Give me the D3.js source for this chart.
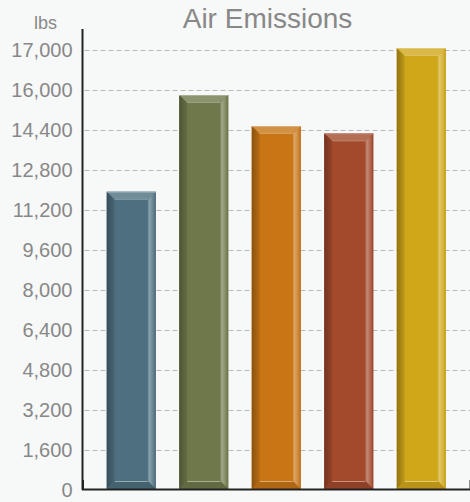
<!DOCTYPE html>
<html>
<head>
<meta charset="utf-8">
<script src="https://cdn.jsdelivr.net/npm/d3@7"></script>
<style>
  html, body { margin: 0; padding: 0; background: #f7f8f8; }
  svg { display: block; font-family: "Liberation Sans", Arial, Helvetica, sans-serif; }
</style>
</head>
<body>
<div id="chart"></div>
<script>
(function(){

  var categories = ["Source 1", "Source 2", "Source 3", "Source 4", "Source 5"];
  var values = [11930, 15800, 14560, 14270, 17680];
  var colors = ["#4e6f7f", "#6f784b", "#c87516", "#a34a2c", "#d1a71a"];
  var tickValues = [0, 1600, 3200, 4800, 6400, 8000, 9600, 11200, 12800, 14400, 16000, 17600];
  var tickLabels = ["0", "1,600", "3,200", "4,800", "6,400", "8,000", "9,600", "11,200", "12,800", "14,400", "16,000", "17,000"];

  var width = 470;
  var height = 502;
  var left = 82.5, right = 470, top = 50, bottom = 490;

  var svg = d3.select("#chart")
    .append("svg")
    .attr("width", width)
    .attr("height", height);

  svg.append("rect")
    .attr("width", width)
    .attr("height", height)
    .attr("fill", "#f7f8f8");

  var x = d3.scaleBand()
    .domain(categories)
    .range([left, right])
    .paddingInner(0.324)
    .paddingOuter(0.334);

  var y = d3.scaleLinear()
    .domain([0, 17600])
    .range([bottom, top]);

  function mix(c, other, t){ return d3.color(d3.interpolateRgb(c, other)(t)).formatHex(); }

  // dashed grid lines
  svg.append("g")
    .selectAll("line")
    .data(tickValues.filter(function(d){ return d > 0; }))
    .enter()
    .append("line")
    .attr("x1", left + 2)
    .attr("x2", right)
    .attr("y1", function(d){ return Math.round(y(d)) + 0.5; })
    .attr("y2", function(d){ return Math.round(y(d)) + 0.5; })
    .attr("stroke", "#b8b8b8")
    .attr("stroke-width", 1)
    .attr("stroke-dasharray", "5,3");

  var defs = svg.append("defs");

  // bevelled bars
  var b = 8;
  var bars = svg.append("g")
    .selectAll("g")
    .data(values)
    .enter()
    .append("g");

  function poly(pts){ return "M" + pts.map(function(p){ return p.join(","); }).join("L") + "Z"; }

  bars.each(function(d, i){
    var g = d3.select(this);
    var x0 = x(categories[i]), x1 = x0 + x.bandwidth();
    var y0 = y(d), y1 = bottom - 1;
    var c = colors[i];

    var lg = defs.append("linearGradient")
      .attr("id", "lg" + i)
      .attr("x1", 0).attr("x2", 1).attr("y1", 0).attr("y2", 0);
    lg.append("stop").attr("offset", 0).attr("stop-color", mix(c, "#000", 0.3));
    lg.append("stop").attr("offset", 1).attr("stop-color", mix(c, "#000", 0.08));

    var rg = defs.append("linearGradient")
      .attr("id", "rg" + i)
      .attr("x1", 0).attr("x2", 1).attr("y1", 0).attr("y2", 0);
    rg.append("stop").attr("offset", 0).attr("stop-color", mix(c, "#fff", 0.12));
    rg.append("stop").attr("offset", 0.2).attr("stop-color", mix(c, "#fff", 0.35));
    rg.append("stop").attr("offset", 0.55).attr("stop-color", mix(c, "#fff", 0.2));
    rg.append("stop").attr("offset", 1).attr("stop-color", mix(c, "#000", 0.05));

    g.append("rect")
      .attr("x", x0).attr("y", y0)
      .attr("width", x1 - x0).attr("height", y1 - y0)
      .attr("fill", c);

    // top bevel
    g.append("path")
      .attr("d", poly([[x0, y0], [x1, y0], [x1 - b, y0 + b], [x0 + b, y0 + b]]))
      .attr("fill", mix(c, "#fff", 0.2));
    // left bevel
    g.append("path")
      .attr("d", poly([[x0, y0], [x0 + b, y0 + b], [x0 + b, y1 - b], [x0, y1]]))
      .attr("fill", "url(#lg" + i + ")");
    // right bevel
    g.append("path")
      .attr("d", poly([[x1, y0], [x1, y1], [x1 - b, y1 - b], [x1 - b, y0 + b]]))
      .attr("fill", "url(#rg" + i + ")");
    // bottom bevel
    g.append("path")
      .attr("d", poly([[x0, y1], [x0 + b, y1 - b], [x1 - b, y1 - b], [x1, y1]]))
      .attr("fill", mix(c, "#000", 0.12));
    // inner top edge highlight
    g.append("line")
      .attr("x1", x0 + b).attr("x2", x1 - b)
      .attr("y1", y0 + b - 0.5).attr("y2", y0 + b - 0.5)
      .attr("stroke", mix(c, "#fff", 0.3))
      .attr("stroke-width", 1);
    // inner bottom highlight
    g.append("line")
      .attr("x1", x0 + b).attr("x2", x1 - b)
      .attr("y1", y1 - b + 0.5).attr("y2", y1 - b + 0.5)
      .attr("stroke", mix(c, "#fff", 0.4))
      .attr("stroke-width", 1);
    // outer top edge line
    g.append("line")
      .attr("x1", x0).attr("x2", x1)
      .attr("y1", y0 + 0.5).attr("y2", y0 + 0.5)
      .attr("stroke", mix(c, "#fff", 0.4))
      .attr("stroke-width", 1);
  });

  // y axis labels
  var yAxis = d3.axisLeft(y)
    .tickValues(tickValues)
    .tickFormat(function(d, i){ return tickLabels[i]; })
    .tickSize(0)
    .tickPadding(10);

  var ya = svg.append("g")
    .attr("transform", "translate(" + left + ",0)")
    .call(yAxis);
  ya.select(".domain").remove();
  ya.selectAll("text")
    .attr("fill", "#888888")
    .style("font-size", "20px")
    .style("font-family", "Liberation Sans, Arial, sans-serif");

  svg.append("line")
    .attr("x1", left).attr("x2", left)
    .attr("y1", 29).attr("y2", bottom)
    .attr("stroke", "#222")
    .attr("stroke-width", 2);

  // x axis line with small end tick
  var xAxis = d3.axisBottom(x)
    .tickSize(0)
    .tickSizeOuter(-9)
    .tickFormat("");

  var xa = svg.append("g")
    .attr("transform", "translate(0," + (bottom - 1) + ")")
    .call(xAxis);
  xa.select(".domain")
    .attr("stroke", "#222")
    .attr("stroke-width", 2);

  // title and unit
  svg.append("text")
    .attr("x", 267.5)
    .attr("y", 28)
    .attr("text-anchor", "middle")
    .attr("fill", "#888888")
    .style("font-size", "28px")
    .text("Air Emissions");

  svg.append("text")
    .attr("x", 45.5)
    .attr("y", 29)
    .attr("text-anchor", "middle")
    .attr("fill", "#888888")
    .style("font-size", "18px")
    .text("lbs");

})();
</script>
</body>
</html>
